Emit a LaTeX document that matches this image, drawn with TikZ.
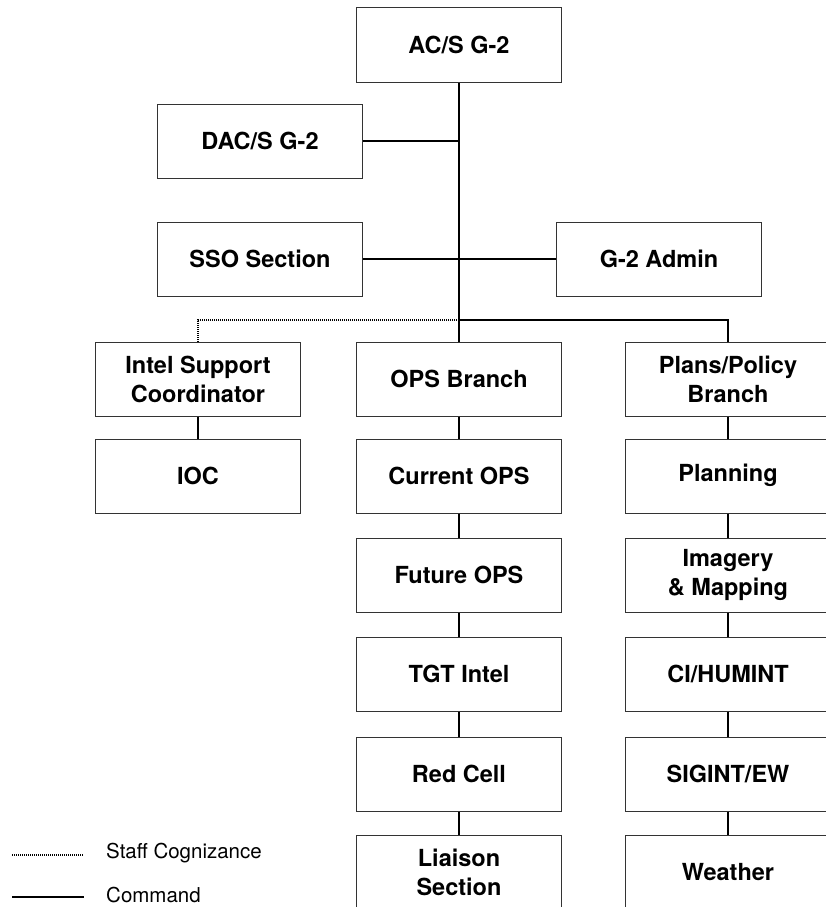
\documentclass[tikz,border=0pt]{standalone}
\usepackage{fontspec}
\setmainfont{TeX Gyre Heros}
\begin{document}
\begin{tikzpicture}[x=1pt,y=-1pt,
  unit/.style={draw=black!80,line width=1pt,minimum width=205pt,minimum height=74pt,
    inner sep=0pt,align=center,font=\fontsize{23.5}{29}\selectfont\bfseries},
  cmd/.style={line width=1.6pt},
  staff/.style={line width=1.2pt,dash pattern=on 1pt off 1pt},
  legend/.style={anchor=west,inner sep=0pt,font=\fontsize{20.5}{24}\selectfont}]
\useasboundingbox (0,0) rectangle (826,907);
\clip (0,0) rectangle (826,907);

\node[unit] (acs) at (459,45) {AC/S G-2};
\node[unit] (dacs) at (260,141) {DAC/S G-2};
\node[unit] (sso) at (260,259) {SSO Section};
\node[unit] (admin) at (659,259) {G-2 Admin};

\node[unit] (isc) at (198,379) {Intel Support\\Coordinator};
\node[unit] (ioc) at (198,476) {IOC};

\node[unit] (ops) at (459,379) {OPS Branch};
\node[unit] (cur) at (459,476) {Current OPS};
\node[unit] (fut) at (459,575) {Future OPS};
\node[unit] (tgt) at (459,674) {TGT Intel};
\node[unit] (red) at (459,774) {Red Cell};
\node[unit] (liai) at (459,872) {Liaison\\Section};

\node[unit] (plans) at (728,379) {Plans/Policy\\Branch};
\node[unit] (plan) at (728,476) {\strut Planning};
\node[unit] (img) at (728,575) {Imagery\\\& Mapping};
\node[unit] (ci) at (728,674) {CI/HUMINT};
\node[unit] (sig) at (728,774) {SIGINT/EW};
\node[unit] (wx) at (728,872) {Weather};

\coordinate (fork) at (459,320);
\draw[cmd] (acs) -- (ops);
\draw[cmd] (dacs.east) -- (dacs.east -| acs);
\draw[cmd] (sso) -- (admin);
\draw[cmd] (fork) -| (plans);
\draw[staff] (fork) -| (isc);
\draw[cmd] (isc) -- (ioc);
\foreach \a/\b in {ops/cur,cur/fut,fut/tgt,tgt/red,red/liai,plans/plan,plan/img,img/ci,ci/sig,sig/wx}
  \draw[cmd] (\a) -- (\b);

% legend
\coordinate (s1) at (12,855);
\coordinate (s2) at (84,855);
\coordinate (c1) at (12,897);
\coordinate (c2) at (84,897);
\draw[staff] (s1) -- (s2);
\draw[cmd] (c1) -- (c2);
\node[legend] (lstaff) at (106,853) {Staff Cognizance};
\node[legend] (lcmd) at (106,895) {Command};
\end{tikzpicture}
\end{document}
